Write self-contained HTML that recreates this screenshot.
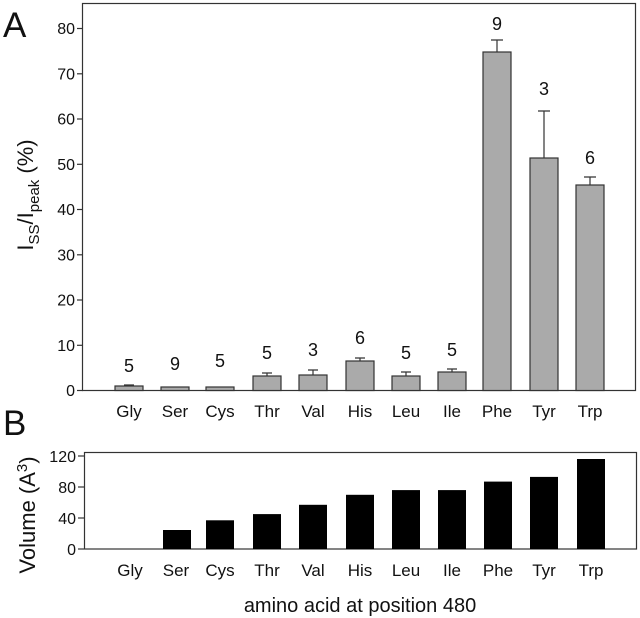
<!DOCTYPE html>
<html><head><style>body{margin:0;background:#fff}svg{display:block}</style></head><body>
<svg width="640" height="618" xmlns="http://www.w3.org/2000/svg" font-family="Liberation Sans, Arial, sans-serif" fill="#111">
<!-- Panel A -->
<text x="3" y="37" font-size="35">A</text>
<rect x="82.5" y="3.5" width="553" height="387" fill="none" stroke="#333" stroke-width="1.2"/>
<g stroke="#333" stroke-width="1.2">
<line x1="77" y1="390.5" x2="83" y2="390.5"/><line x1="77" y1="345.3" x2="83" y2="345.3"/><line x1="77" y1="300" x2="83" y2="300"/><line x1="77" y1="254.8" x2="83" y2="254.8"/><line x1="77" y1="209.5" x2="83" y2="209.5"/><line x1="77" y1="164.3" x2="83" y2="164.3"/><line x1="77" y1="119" x2="83" y2="119"/><line x1="77" y1="73.8" x2="83" y2="73.8"/><line x1="77" y1="28.5" x2="83" y2="28.5"/>
</g>
<g font-size="16" text-anchor="end">
<text x="75" y="396">0</text><text x="75" y="351">10</text><text x="75" y="305.5">20</text><text x="75" y="260.5">30</text><text x="75" y="215">40</text><text x="75" y="170">50</text><text x="75" y="124.5">60</text><text x="75" y="79.5">70</text><text x="75" y="34">80</text>
</g>
<text transform="translate(33,195) rotate(-90)" font-size="22" text-anchor="middle">I<tspan font-size="15" dy="6">SS</tspan><tspan dy="-6">/I</tspan><tspan font-size="15" dy="6">peak</tspan><tspan dy="-6"> (%)</tspan></text>
<g fill="#aaa" stroke="#333" stroke-width="1.2">
<rect x="115" y="386" width="28" height="4.5"/>
<rect x="161" y="387" width="28" height="3.5"/>
<rect x="206" y="387" width="28" height="3.5"/>
<rect x="253" y="376" width="28" height="14.5"/>
<rect x="299" y="375" width="28" height="15.5"/>
<rect x="346" y="361" width="28" height="29.5"/>
<rect x="392" y="376" width="28" height="14.5"/>
<rect x="438" y="372" width="28" height="18.5"/>
<rect x="483" y="52" width="28" height="338.5"/>
<rect x="530" y="158" width="28" height="232.5"/>
<rect x="576" y="185" width="28" height="205.5"/>
</g>
<g stroke="#333" stroke-width="1.2">
<path d="M129 386V385M124 385H134"/>
<path d="M267 376V373M262 373H272"/>
<path d="M313 375V370M308 370H318"/>
<path d="M360 361V358M355 358H365"/>
<path d="M406 376V372M401 372H411"/>
<path d="M452 372V369M447 369H457"/>
<path d="M497 52V40M491 40H503"/>
<path d="M544 158V111M538 111H550"/>
<path d="M590 185V177M584 177H596"/>
</g>
<g font-size="18" text-anchor="middle">
<text x="129" y="372">5</text><text x="175" y="370">9</text><text x="220" y="367">5</text><text x="267" y="359">5</text><text x="313" y="356">3</text><text x="360" y="344">6</text><text x="406" y="359">5</text><text x="452" y="356">5</text><text x="497" y="30">9</text><text x="544" y="95">3</text><text x="590" y="164">6</text>
</g>
<g font-size="17" text-anchor="middle">
<text x="129" y="417">Gly</text><text x="175" y="417">Ser</text><text x="220" y="417">Cys</text><text x="267" y="417">Thr</text><text x="313" y="417">Val</text><text x="360" y="417">His</text><text x="406" y="417">Leu</text><text x="452" y="417">Ile</text><text x="497" y="417">Phe</text><text x="544" y="417">Tyr</text><text x="590" y="417">Trp</text>
</g>
<!-- Panel B -->
<text x="3" y="435" font-size="35">B</text>
<rect x="84.5" y="452.5" width="552" height="96.5" fill="none" stroke="#333" stroke-width="1.2"/>
<g stroke="#333" stroke-width="1.2">
<line x1="78" y1="549" x2="84" y2="549"/><line x1="78" y1="518" x2="84" y2="518"/><line x1="78" y1="487" x2="84" y2="487"/><line x1="78" y1="456" x2="84" y2="456"/>
</g>
<g font-size="16" text-anchor="end">
<text x="76" y="555">0</text><text x="76" y="524">40</text><text x="76" y="493">80</text><text x="76" y="462">120</text>
</g>
<text transform="translate(35,515) rotate(-90)" font-size="22" text-anchor="middle">Volume (A<tspan font-size="15" dy="-8">3</tspan><tspan dy="8">)</tspan></text>
<g fill="#000">
<rect x="163" y="530" width="28" height="19"/>
<rect x="206" y="520.3" width="28" height="28.7"/>
<rect x="253" y="514.1" width="28" height="34.9"/>
<rect x="299" y="504.8" width="28" height="44.2"/>
<rect x="346" y="494.8" width="28" height="54.2"/>
<rect x="392" y="490.1" width="28" height="58.9"/>
<rect x="438" y="490.1" width="28" height="58.9"/>
<rect x="484" y="481.6" width="28" height="67.4"/>
<rect x="530" y="476.9" width="28" height="72.1"/>
<rect x="577" y="459" width="28" height="90"/>
</g>
<g font-size="17" text-anchor="middle">
<text x="130" y="576">Gly</text><text x="176" y="576">Ser</text><text x="220" y="576">Cys</text><text x="267" y="576">Thr</text><text x="313" y="576">Val</text><text x="360" y="576">His</text><text x="406" y="576">Leu</text><text x="452" y="576">Ile</text><text x="498" y="576">Phe</text><text x="544" y="576">Tyr</text><text x="591" y="576">Trp</text>
</g>
<text x="360" y="612" font-size="20" text-anchor="middle">amino acid at position 480</text>
</svg>
</body></html>
